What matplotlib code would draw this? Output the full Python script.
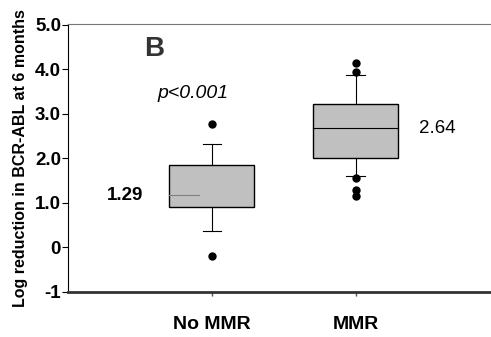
import matplotlib
matplotlib.use("Agg")
import matplotlib.pyplot as plt

plt.rcParams['font.family'] = ['Liberation Sans', 'DejaVu Sans']

groups = ['No MMR', 'MMR']
medians = [1.17, 2.68]
q1 = [0.90, 2.02]
q3 = [1.85, 3.23]
whislo = [0.36, 1.61]
whishi = [2.33, 3.88]
outliers = [[2.78, -0.20], [4.15, 3.95, 1.57, 1.30, 1.15]]
median_labels = ['1.29', '2.64']
yticks = [-1, 0, 1, 2, 3, 4, 5]
yticklabels = ['-1', '0', '1.0', '2.0', '3.0', '4.0', '5.0']

stats = []
for i, g in enumerate(groups):
    stats.append({'label': g, 'med': medians[i], 'q1': q1[i], 'q3': q3[i],
                  'whislo': whislo[i], 'whishi': whishi[i], 'fliers': outliers[i]})

fig = plt.figure(figsize=(4.91, 3.37), dpi=100)
ax = fig.add_axes([68 / 491, 45 / 337, 1 - 68 / 491, 268 / 337])

pos = [1, 2]
ax.bxp(stats, positions=pos, widths=0.59, patch_artist=True,
       boxprops=dict(facecolor='#c0c0c0', edgecolor='black', linewidth=1.0),
       whiskerprops=dict(color='black', linewidth=0.8),
       capprops=dict(color='black', linewidth=0.8),
       capwidths=0.13,
       medianprops=dict(linewidth=0),
       flierprops=dict(marker='o', markerfacecolor='black', markeredgecolor='black',
                       markersize=5))

# medians: partial grey line for No MMR, full line for MMR
ax.plot([pos[0] - 0.295, pos[0] - 0.09], [medians[0]] * 2, color='#808080', lw=0.8)
ax.plot([pos[1] - 0.295, pos[1] + 0.295], [medians[1]] * 2, color='black', lw=0.8)

ax.text(pos[0] - 0.60, medians[0], median_labels[0], fontsize=13.5, fontweight='bold',
        ha='center', va='center')
ax.text(pos[1] + 0.57, medians[1], median_labels[1], fontsize=13.5,
        ha='center', va='center')

ax.text(0.60, 4.45, 'B', fontsize=20, fontweight='bold', color='#333333',
        ha='center', va='center')
ax.text(0.87, 3.47, 'p<0.001', fontsize=14, style='italic', ha='center', va='center')

ax.set_xlim(0, 2.94)
ax.set_ylim(-1, 5.02)
ax.set_xticks(pos)
ax.set_xticklabels(groups, fontsize=14, fontweight='bold')
ax.set_yticks(yticks)
ax.set_yticklabels(yticklabels, fontsize=13.5, fontweight='bold')
ax.tick_params(axis='y', direction='out', length=4, width=0.8, pad=1)
ax.tick_params(axis='x', direction='out', length=3, width=1, color='#555555', pad=14)

ax.spines['right'].set_visible(False)
ax.spines['top'].set_color('#777777')
ax.spines['bottom'].set_linewidth(2)
ax.spines['bottom'].set_color('#333333')
ax.spines['left'].set_linewidth(0.8)

ax.set_ylabel('Log reduction in BCR-ABL at 6 months', fontsize=11.5, fontweight='bold',
              labelpad=5)

fig.savefig('out.png', dpi=100)
